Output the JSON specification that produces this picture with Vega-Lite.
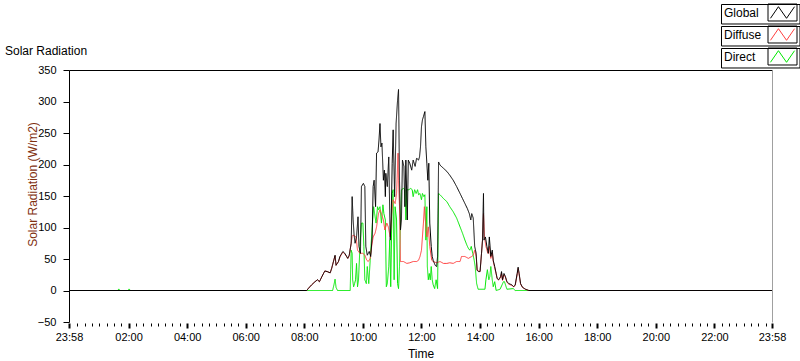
{
  "$schema": "https://vega.github.io/schema/vega-lite/v6.json",
  "width": 703,
  "height": 252,
  "autosize": "none",
  "padding": {"left": 69, "top": 70, "right": 28, "bottom": 39},
  "background": "white",
  "config": {"view": {"stroke": null}},
  "title": {"text": "Solar Radiation", "anchor": "start", "frame": "group", "dx": -64, "dy": 70, "offset": 4, "baseline": "bottom", "font": "Liberation Sans", "fontSize": 12, "fontWeight": "normal", "color": "black"},
  "data": {"values": [
    {"series":"Global","minute":-2,"value":0},{"series":"Global","minute":485,"value":0},{"series":"Global","minute":488,"value":3},{"series":"Global","minute":495,"value":9},{"series":"Global","minute":502,"value":14},{"series":"Global","minute":507,"value":17},{"series":"Global","minute":511,"value":14},{"series":"Global","minute":516,"value":22},{"series":"Global","minute":522,"value":31},{"series":"Global","minute":527,"value":30},{"series":"Global","minute":533,"value":28},{"series":"Global","minute":536,"value":35},{"series":"Global","minute":539,"value":44},{"series":"Global","minute":543,"value":56},{"series":"Global","minute":545,"value":40},{"series":"Global","minute":550,"value":46},{"series":"Global","minute":553,"value":54},{"series":"Global","minute":559,"value":62},{"series":"Global","minute":563,"value":59},{"series":"Global","minute":569,"value":51},{"series":"Global","minute":572,"value":56},{"series":"Global","minute":576,"value":75},{"series":"Global","minute":578,"value":149},{"series":"Global","minute":580,"value":112},{"series":"Global","minute":582,"value":88},{"series":"Global","minute":584,"value":75},{"series":"Global","minute":587,"value":85},{"series":"Global","minute":590,"value":117},{"series":"Global","minute":592,"value":70},{"series":"Global","minute":595,"value":59},{"series":"Global","minute":597,"value":165},{"series":"Global","minute":601,"value":170},{"series":"Global","minute":604,"value":165},{"series":"Global","minute":606,"value":70},{"series":"Global","minute":609,"value":56},{"series":"Global","minute":613,"value":62},{"series":"Global","minute":616,"value":54},{"series":"Global","minute":619,"value":85},{"series":"Global","minute":621,"value":165},{"series":"Global","minute":623,"value":175},{"series":"Global","minute":626,"value":133},{"series":"Global","minute":628,"value":218},{"series":"Global","minute":631,"value":220},{"series":"Global","minute":633,"value":239},{"series":"Global","minute":635,"value":265},{"series":"Global","minute":637,"value":228},{"series":"Global","minute":639,"value":234},{"series":"Global","minute":642,"value":175},{"series":"Global","minute":644,"value":191},{"series":"Global","minute":646,"value":149},{"series":"Global","minute":647,"value":186},{"series":"Global","minute":650,"value":165},{"series":"Global","minute":653,"value":212},{"series":"Global","minute":656,"value":80},{"series":"Global","minute":658,"value":112},{"series":"Global","minute":660,"value":202},{"series":"Global","minute":662,"value":255},{"series":"Global","minute":665,"value":149},{"series":"Global","minute":668,"value":265},{"series":"Global","minute":671,"value":302},{"series":"Global","minute":673,"value":319},{"series":"Global","minute":675,"value":175},{"series":"Global","minute":677,"value":96},{"series":"Global","minute":679,"value":112},{"series":"Global","minute":681,"value":207},{"series":"Global","minute":684,"value":197},{"series":"Global","minute":686,"value":133},{"series":"Global","minute":688,"value":207},{"series":"Global","minute":691,"value":112},{"series":"Global","minute":693,"value":207},{"series":"Global","minute":696,"value":202},{"series":"Global","minute":700,"value":191},{"series":"Global","minute":703,"value":207},{"series":"Global","minute":707,"value":197},{"series":"Global","minute":710,"value":210},{"series":"Global","minute":714,"value":207},{"series":"Global","minute":716,"value":212},{"series":"Global","minute":718,"value":228},{"series":"Global","minute":720,"value":260},{"series":"Global","minute":722,"value":271},{"series":"Global","minute":724,"value":276},{"series":"Global","minute":727,"value":284},{"series":"Global","minute":729,"value":228},{"series":"Global","minute":731,"value":202},{"series":"Global","minute":733,"value":175},{"series":"Global","minute":735,"value":202},{"series":"Global","minute":737,"value":107},{"series":"Global","minute":740,"value":70},{"series":"Global","minute":742,"value":54},{"series":"Global","minute":744,"value":48},{"series":"Global","minute":748,"value":40},{"series":"Global","minute":751,"value":38},{"series":"Global","minute":753,"value":54},{"series":"Global","minute":755,"value":204},{"series":"Global","minute":758,"value":199},{"series":"Global","minute":765,"value":194},{"series":"Global","minute":772,"value":189},{"series":"Global","minute":778,"value":183},{"series":"Global","minute":785,"value":175},{"series":"Global","minute":792,"value":165},{"series":"Global","minute":799,"value":154},{"series":"Global","minute":804,"value":146},{"series":"Global","minute":809,"value":138},{"series":"Global","minute":814,"value":130},{"series":"Global","minute":818,"value":122},{"series":"Global","minute":821,"value":112},{"series":"Global","minute":823,"value":122},{"series":"Global","minute":826,"value":115},{"series":"Global","minute":829,"value":70},{"series":"Global","minute":832,"value":59},{"series":"Global","minute":834,"value":32},{"series":"Global","minute":837,"value":30},{"series":"Global","minute":840,"value":30},{"series":"Global","minute":843,"value":59},{"series":"Global","minute":845,"value":80},{"series":"Global","minute":847,"value":154},{"series":"Global","minute":848,"value":80},{"series":"Global","minute":851,"value":85},{"series":"Global","minute":854,"value":70},{"series":"Global","minute":857,"value":59},{"series":"Global","minute":859,"value":85},{"series":"Global","minute":862,"value":54},{"series":"Global","minute":865,"value":64},{"series":"Global","minute":867,"value":48},{"series":"Global","minute":870,"value":38},{"series":"Global","minute":873,"value":27},{"series":"Global","minute":875,"value":19},{"series":"Global","minute":878,"value":17},{"series":"Global","minute":882,"value":22},{"series":"Global","minute":884,"value":30},{"series":"Global","minute":886,"value":17},{"series":"Global","minute":889,"value":27},{"series":"Global","minute":892,"value":22},{"series":"Global","minute":895,"value":14},{"series":"Global","minute":899,"value":11},{"series":"Global","minute":902,"value":10},{"series":"Global","minute":905,"value":9},{"series":"Global","minute":909,"value":6},{"series":"Global","minute":912,"value":9},{"series":"Global","minute":916,"value":27},{"series":"Global","minute":918,"value":37},{"series":"Global","minute":920,"value":27},{"series":"Global","minute":923,"value":11},{"series":"Global","minute":927,"value":5},{"series":"Global","minute":933,"value":2},{"series":"Global","minute":940,"value":0},{"series":"Global","minute":1438,"value":0},

    {"series":"Diffuse","minute":-2,"value":0},{"series":"Diffuse","minute":485,"value":0},{"series":"Diffuse","minute":488,"value":3},{"series":"Diffuse","minute":495,"value":9},{"series":"Diffuse","minute":502,"value":14},{"series":"Diffuse","minute":507,"value":17},{"series":"Diffuse","minute":511,"value":14},{"series":"Diffuse","minute":516,"value":22},{"series":"Diffuse","minute":522,"value":31},{"series":"Diffuse","minute":527,"value":30},{"series":"Diffuse","minute":533,"value":28},{"series":"Diffuse","minute":536,"value":35},{"series":"Diffuse","minute":539,"value":44},{"series":"Diffuse","minute":543,"value":55},{"series":"Diffuse","minute":545,"value":40},{"series":"Diffuse","minute":550,"value":46},{"series":"Diffuse","minute":553,"value":53},{"series":"Diffuse","minute":559,"value":61},{"series":"Diffuse","minute":563,"value":58},{"series":"Diffuse","minute":569,"value":51},{"series":"Diffuse","minute":572,"value":55},{"series":"Diffuse","minute":576,"value":75},{"series":"Diffuse","minute":578,"value":86},{"series":"Diffuse","minute":580,"value":88},{"series":"Diffuse","minute":586,"value":85},{"series":"Diffuse","minute":589,"value":64},{"series":"Diffuse","minute":594,"value":59},{"series":"Diffuse","minute":600,"value":59},{"series":"Diffuse","minute":604,"value":56},{"series":"Diffuse","minute":608,"value":48},{"series":"Diffuse","minute":611,"value":46},{"series":"Diffuse","minute":615,"value":51},{"series":"Diffuse","minute":618,"value":70},{"series":"Diffuse","minute":621,"value":85},{"series":"Diffuse","minute":625,"value":91},{"series":"Diffuse","minute":628,"value":101},{"series":"Diffuse","minute":632,"value":122},{"series":"Diffuse","minute":635,"value":128},{"series":"Diffuse","minute":638,"value":122},{"series":"Diffuse","minute":642,"value":112},{"series":"Diffuse","minute":645,"value":96},{"series":"Diffuse","minute":649,"value":107},{"series":"Diffuse","minute":652,"value":101},{"series":"Diffuse","minute":656,"value":85},{"series":"Diffuse","minute":659,"value":122},{"series":"Diffuse","minute":662,"value":144},{"series":"Diffuse","minute":666,"value":138},{"series":"Diffuse","minute":669,"value":154},{"series":"Diffuse","minute":672,"value":218},{"series":"Diffuse","minute":673,"value":175},{"series":"Diffuse","minute":675,"value":133},{"series":"Diffuse","minute":677,"value":46},{"series":"Diffuse","minute":683,"value":46},{"series":"Diffuse","minute":690,"value":43},{"series":"Diffuse","minute":696,"value":44},{"series":"Diffuse","minute":703,"value":46},{"series":"Diffuse","minute":710,"value":46},{"series":"Diffuse","minute":714,"value":48},{"series":"Diffuse","minute":717,"value":54},{"series":"Diffuse","minute":720,"value":64},{"series":"Diffuse","minute":724,"value":107},{"series":"Diffuse","minute":726,"value":133},{"series":"Diffuse","minute":728,"value":112},{"series":"Diffuse","minute":731,"value":85},{"series":"Diffuse","minute":734,"value":101},{"series":"Diffuse","minute":737,"value":70},{"series":"Diffuse","minute":741,"value":48},{"series":"Diffuse","minute":744,"value":46},{"series":"Diffuse","minute":751,"value":44},{"series":"Diffuse","minute":758,"value":46},{"series":"Diffuse","minute":765,"value":43},{"series":"Diffuse","minute":772,"value":43},{"series":"Diffuse","minute":778,"value":44},{"series":"Diffuse","minute":785,"value":43},{"series":"Diffuse","minute":792,"value":46},{"series":"Diffuse","minute":799,"value":46},{"series":"Diffuse","minute":802,"value":54},{"series":"Diffuse","minute":809,"value":54},{"series":"Diffuse","minute":816,"value":51},{"series":"Diffuse","minute":823,"value":54},{"series":"Diffuse","minute":826,"value":56},{"series":"Diffuse","minute":829,"value":64},{"series":"Diffuse","minute":832,"value":54},{"series":"Diffuse","minute":834,"value":32},{"series":"Diffuse","minute":840,"value":30},{"series":"Diffuse","minute":843,"value":59},{"series":"Diffuse","minute":845,"value":80},{"series":"Diffuse","minute":847,"value":122},{"series":"Diffuse","minute":849,"value":85},{"series":"Diffuse","minute":852,"value":70},{"series":"Diffuse","minute":856,"value":59},{"series":"Diffuse","minute":859,"value":70},{"series":"Diffuse","minute":862,"value":51},{"series":"Diffuse","minute":865,"value":60},{"series":"Diffuse","minute":867,"value":46},{"series":"Diffuse","minute":870,"value":36},{"series":"Diffuse","minute":873,"value":26},{"series":"Diffuse","minute":875,"value":19},{"series":"Diffuse","minute":878,"value":17},{"series":"Diffuse","minute":882,"value":20},{"series":"Diffuse","minute":884,"value":27},{"series":"Diffuse","minute":886,"value":16},{"series":"Diffuse","minute":889,"value":25},{"series":"Diffuse","minute":892,"value":21},{"series":"Diffuse","minute":895,"value":13},{"series":"Diffuse","minute":899,"value":10},{"series":"Diffuse","minute":902,"value":9},{"series":"Diffuse","minute":905,"value":8},{"series":"Diffuse","minute":909,"value":6},{"series":"Diffuse","minute":912,"value":8},{"series":"Diffuse","minute":916,"value":25},{"series":"Diffuse","minute":918,"value":35},{"series":"Diffuse","minute":920,"value":26},{"series":"Diffuse","minute":923,"value":10},{"series":"Diffuse","minute":927,"value":5},{"series":"Diffuse","minute":933,"value":2},{"series":"Diffuse","minute":940,"value":0},{"series":"Diffuse","minute":1438,"value":0},

    {"series":"Direct","minute":-2,"value":0},{"series":"Direct","minute":98,"value":0},{"series":"Direct","minute":100,"value":2.5},{"series":"Direct","minute":102,"value":0},{"series":"Direct","minute":119,"value":0},{"series":"Direct","minute":121,"value":2.5},{"series":"Direct","minute":124,"value":0},{"series":"Direct","minute":538,"value":0},{"series":"Direct","minute":541,"value":10},{"series":"Direct","minute":543,"value":18},{"series":"Direct","minute":545,"value":5},{"series":"Direct","minute":548,"value":0},{"series":"Direct","minute":574,"value":0},{"series":"Direct","minute":575,"value":33},{"series":"Direct","minute":576,"value":64},{"series":"Direct","minute":578,"value":59},{"series":"Direct","minute":579,"value":17},{"series":"Direct","minute":581,"value":6},{"series":"Direct","minute":583,"value":11},{"series":"Direct","minute":585,"value":17},{"series":"Direct","minute":587,"value":43},{"series":"Direct","minute":589,"value":6},{"series":"Direct","minute":591,"value":17},{"series":"Direct","minute":594,"value":70},{"series":"Direct","minute":597,"value":107},{"series":"Direct","minute":600,"value":107},{"series":"Direct","minute":602,"value":70},{"series":"Direct","minute":604,"value":17},{"series":"Direct","minute":607,"value":11},{"series":"Direct","minute":609,"value":38},{"series":"Direct","minute":612,"value":11},{"series":"Direct","minute":615,"value":48},{"series":"Direct","minute":617,"value":75},{"series":"Direct","minute":620,"value":112},{"series":"Direct","minute":622,"value":133},{"series":"Direct","minute":624,"value":122},{"series":"Direct","minute":627,"value":107},{"series":"Direct","minute":630,"value":133},{"series":"Direct","minute":632,"value":128},{"series":"Direct","minute":635,"value":133},{"series":"Direct","minute":638,"value":107},{"series":"Direct","minute":641,"value":136},{"series":"Direct","minute":643,"value":122},{"series":"Direct","minute":646,"value":112},{"series":"Direct","minute":648,"value":6},{"series":"Direct","minute":650,"value":11},{"series":"Direct","minute":653,"value":38},{"series":"Direct","minute":655,"value":80},{"series":"Direct","minute":657,"value":6},{"series":"Direct","minute":660,"value":154},{"series":"Direct","minute":662,"value":160},{"series":"Direct","minute":664,"value":17},{"series":"Direct","minute":666,"value":133},{"series":"Direct","minute":669,"value":112},{"series":"Direct","minute":671,"value":11},{"series":"Direct","minute":673,"value":3},{"series":"Direct","minute":675,"value":38},{"series":"Direct","minute":677,"value":112},{"series":"Direct","minute":679,"value":160},{"series":"Direct","minute":683,"value":162},{"series":"Direct","minute":686,"value":160},{"series":"Direct","minute":688,"value":112},{"series":"Direct","minute":690,"value":160},{"series":"Direct","minute":694,"value":160},{"series":"Direct","minute":698,"value":162},{"series":"Direct","minute":701,"value":160},{"series":"Direct","minute":703,"value":149},{"series":"Direct","minute":706,"value":160},{"series":"Direct","minute":709,"value":154},{"series":"Direct","minute":712,"value":160},{"series":"Direct","minute":714,"value":152},{"series":"Direct","minute":717,"value":154},{"series":"Direct","minute":720,"value":144},{"series":"Direct","minute":722,"value":154},{"series":"Direct","minute":725,"value":149},{"series":"Direct","minute":727,"value":152},{"series":"Direct","minute":729,"value":80},{"series":"Direct","minute":731,"value":133},{"series":"Direct","minute":732,"value":38},{"series":"Direct","minute":734,"value":17},{"series":"Direct","minute":736,"value":27},{"series":"Direct","minute":738,"value":17},{"series":"Direct","minute":740,"value":38},{"series":"Direct","minute":742,"value":17},{"series":"Direct","minute":744,"value":9},{"series":"Direct","minute":747,"value":3},{"series":"Direct","minute":750,"value":17},{"series":"Direct","minute":753,"value":3},{"series":"Direct","minute":755,"value":154},{"series":"Direct","minute":758,"value":152},{"series":"Direct","minute":765,"value":146},{"series":"Direct","minute":772,"value":141},{"series":"Direct","minute":778,"value":133},{"series":"Direct","minute":785,"value":125},{"series":"Direct","minute":792,"value":115},{"series":"Direct","minute":799,"value":101},{"series":"Direct","minute":804,"value":91},{"series":"Direct","minute":809,"value":80},{"series":"Direct","minute":813,"value":72},{"series":"Direct","minute":816,"value":67},{"series":"Direct","minute":819,"value":64},{"series":"Direct","minute":822,"value":70},{"series":"Direct","minute":825,"value":59},{"series":"Direct","minute":828,"value":48},{"series":"Direct","minute":830,"value":38},{"series":"Direct","minute":833,"value":11},{"series":"Direct","minute":836,"value":2},{"series":"Direct","minute":850,"value":2},{"series":"Direct","minute":852,"value":17},{"series":"Direct","minute":855,"value":33},{"series":"Direct","minute":858,"value":17},{"series":"Direct","minute":860,"value":22},{"series":"Direct","minute":862,"value":38},{"series":"Direct","minute":865,"value":17},{"series":"Direct","minute":867,"value":6},{"series":"Direct","minute":870,"value":14},{"series":"Direct","minute":873,"value":0},{"series":"Direct","minute":881,"value":2},{"series":"Direct","minute":888,"value":14},{"series":"Direct","minute":890,"value":14},{"series":"Direct","minute":895,"value":2},{"series":"Direct","minute":908,"value":3},{"series":"Direct","minute":912,"value":0},{"series":"Direct","minute":1438,"value":0}
  ]},
  "encoding": {
    "x": {"field": "minute", "type": "quantitative", "scale": {"domain": [-2, 1438], "nice": false, "zero": false}},
    "y": {"field": "value", "type": "quantitative", "scale": {"domain": [-50, 350], "nice": false, "zero": false}},
    "color": {"field": "series", "type": "nominal", "scale": {"domain": ["Global", "Diffuse", "Direct"], "range": ["#000000", "#ff4040", "#00e800"]},
      "legend": {"orient": "none", "legendX": 652, "legendY": -66, "title": null, "padding": 0, "rowPadding": -1,
        "symbolType": "M-1,-0.586M1,0.586M-0.83,0.4L-0.28,-0.4L0.28,0.4L0.83,-0.4", "symbolSize": 841, "symbolStrokeWidth": 1,
        "labelFont": "Liberation Sans", "labelFontSize": 12, "labelColor": "black",
        "encode": {
          "symbols": {"update": {"x": {"value": 61.5}, "y": {"value": 8.5}, "fill": {"value": "transparent"}}},
          "labels": {"update": {"x": {"value": 3}, "y": {"value": 9}}},
          "entries": {"update": {"stroke": {"value": "black"}, "strokeWidth": {"value": 1}, "width": {"value": 42}, "height": {"value": 17}}}
        }}},
    "strokeDash": {"field": "series", "type": "nominal", "scale": {"domain": ["Direct", "Diffuse", "Global"], "range": [[1, 0], [1, 0], [1, 0]]},
      "legend": {"orient": "none", "legendX": 652, "legendY": -66, "title": null, "padding": 0, "rowPadding": -1,
        "symbolType": "M-1,-0.586H1V0.586H-1Z", "symbolSize": 841, "symbolStrokeWidth": 1,
        "labelFont": "Liberation Sans", "labelFontSize": 12, "labelColor": "black",
        "encode": {
          "symbols": {"update": {"x": {"value": 61.5}, "y": {"value": 8.5}, "fill": {"value": "transparent"}, "stroke": {"value": "black"}}},
          "labels": {"update": {"x": {"value": 3}, "y": {"value": 9}, "opacity": {"value": 0}}},
          "entries": {"update": {"stroke": {"value": "transparent"}, "strokeWidth": {"value": 1}, "width": {"value": 42}, "height": {"value": 17}}}
        }}}
  },
  "layer": [
    {
      "transform": [{"filter": "datum.series == 'Direct'"}],
      "mark": {"type": "line", "strokeWidth": 1, "interpolate": "linear"},
      "encoding": {
        "x": {"field": "minute", "type": "quantitative", "axis": {
          "orient": "bottom", "domain": false, "grid": false, "offset": 1,
          "values": [-2,15,30,45,60,75,90,105,120,135,150,165,180,195,210,225,240,255,270,285,300,315,330,345,360,375,390,405,420,435,450,465,480,495,510,525,540,555,570,585,600,615,630,645,660,675,690,705,720,735,750,765,780,795,810,825,840,855,870,885,900,915,930,945,960,975,990,1005,1020,1035,1050,1065,1080,1095,1110,1125,1140,1155,1170,1185,1200,1215,1230,1245,1260,1275,1290,1305,1320,1335,1350,1365,1380,1395,1410,1425,1438],
          "labelExpr": "datum.value < 0 || datum.value > 1430 ? '23:58' : (datum.value % 120 == 0 ? (datum.value < 600 ? '0' : '') + (datum.value / 60) + ':00' : '')",
          "labelOverlap": false, "labelFlush": false, "labelPadding": 3,
          "labelFont": "Liberation Sans", "labelFontSize": 11, "labelColor": "black",
          "tickColor": "black",
          "tickSize": {"condition": {"test": "datum.value < 0 || datum.value > 1430 || datum.value % 120 == 0", "value": 5}, "value": 3},
          "tickWidth": {"condition": {"test": "datum.value < 0 || datum.value > 1430 || datum.value % 120 == 0", "value": 2}, "value": 1},
          "title": "Time", "titleFont": "Liberation Sans", "titleFontSize": 12, "titleFontWeight": "normal", "titleColor": "black", "titlePadding": 6
        }},
        "y": {"field": "value", "type": "quantitative", "axis": {
          "orient": "left", "values": [-50, 0, 50, 100, 150, 200, 250, 300, 350], "grid": false,
          "domainColor": "black", "tickColor": "black", "tickSize": 6, "labelPadding": 7,
          "labelFont": "Liberation Sans", "labelFontSize": 11, "labelColor": "black",
          "title": "Solar Radiation (W/m2)", "titleFont": "Liberation Sans", "titleFontSize": 12, "titleFontWeight": "normal", "titleColor": "#7f3010",
          "titleX": -33, "titleY": 114, "titleAngle": 270, "titleAlign": "center", "titleBaseline": "alphabetic"
        }}
      }
    },
    {
      "transform": [{"filter": "datum.series == 'Diffuse'"}],
      "mark": {"type": "line", "strokeWidth": 1, "interpolate": "linear"},
      "encoding": {
        "x": {"field": "minute", "type": "quantitative", "axis": {"orient": "top", "domain": true, "domainColor": "black", "ticks": false, "labels": false, "grid": false, "title": null}},
        "y": {"field": "value", "type": "quantitative", "axis": {"orient": "right", "domain": true, "domainColor": "#a0a0a0", "ticks": false, "labels": false, "grid": false, "title": null}}
      }
    },
    {
      "transform": [{"filter": "datum.series == 'Global'"}],
      "mark": {"type": "line", "strokeWidth": 1, "interpolate": "linear"},
      "encoding": {
        "x": {"field": "minute", "type": "quantitative", "axis": null},
        "y": {"field": "value", "type": "quantitative", "axis": null}
      }
    }
  ],
  "resolve": {"axis": {"x": "independent", "y": "independent"}}
}
